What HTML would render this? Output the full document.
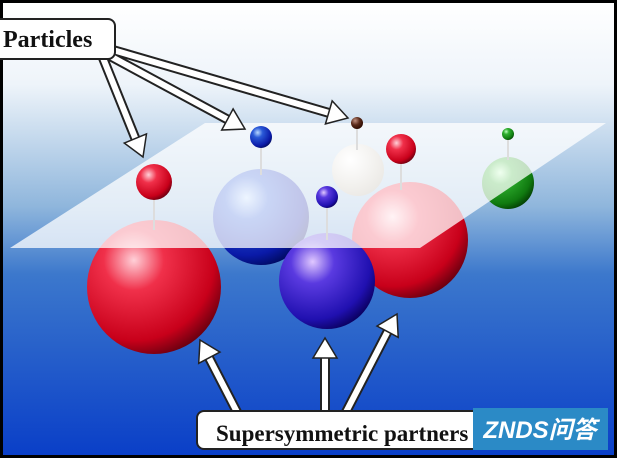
<!DOCTYPE html>
<html><head><meta charset="utf-8"><style>
html,body{margin:0;padding:0;background:#000;}
svg{display:block}
</style></head><body>
<svg width="617" height="458" viewBox="0 0 617 458" xmlns="http://www.w3.org/2000/svg">
<defs>
<linearGradient id="bg" x1="0" y1="0" x2="0" y2="1">
<stop offset="0" stop-color="#ffffff"/>
<stop offset="0.18" stop-color="#eef4fa"/>
<stop offset="0.45" stop-color="#8fb6dc"/>
<stop offset="0.6" stop-color="#3c78cc"/>
<stop offset="1" stop-color="#0a3fc8"/>
</linearGradient>
<radialGradient id="red" cx="0.35" cy="0.3" r="0.75">
<stop offset="0" stop-color="#ffd0d8"/><stop offset="0.3" stop-color="#f0304a"/><stop offset="0.8" stop-color="#c8001a"/><stop offset="1" stop-color="#6a0010"/>
</radialGradient>
<radialGradient id="blue" cx="0.35" cy="0.3" r="0.75">
<stop offset="0" stop-color="#b8d8ff"/><stop offset="0.3" stop-color="#2a5ad8"/><stop offset="0.8" stop-color="#0a1aa8"/><stop offset="1" stop-color="#000a60"/>
</radialGradient>
<radialGradient id="purple" cx="0.35" cy="0.3" r="0.75">
<stop offset="0" stop-color="#e0c8ff"/><stop offset="0.3" stop-color="#5a3ae0"/><stop offset="0.8" stop-color="#2010b0"/><stop offset="1" stop-color="#0a0060"/>
</radialGradient>
<radialGradient id="green" cx="0.35" cy="0.3" r="0.75">
<stop offset="0" stop-color="#c0ffc0"/><stop offset="0.3" stop-color="#30b030"/><stop offset="0.8" stop-color="#107a10"/><stop offset="1" stop-color="#034003"/>
</radialGradient>
<radialGradient id="brown" cx="0.35" cy="0.3" r="0.75">
<stop offset="0" stop-color="#c09080"/><stop offset="0.5" stop-color="#5a2a1a"/><stop offset="1" stop-color="#2a0a00"/>
</radialGradient>
<radialGradient id="beige" cx="0.35" cy="0.3" r="0.75">
<stop offset="0" stop-color="#ffffff"/><stop offset="1" stop-color="#b0a898"/>
</radialGradient>
</defs>
<rect x="0" y="0" width="617" height="458" fill="#000"/>
<rect x="3" y="3" width="611" height="452" fill="url(#bg)"/>

<circle cx="358" cy="170" r="26" fill="url(#beige)"/>
<circle cx="508" cy="183" r="26" fill="url(#green)"/>
<circle cx="261" cy="217" r="48" fill="url(#blue)"/>
<circle cx="410" cy="240" r="58" fill="url(#red)"/>
<circle cx="327" cy="281" r="48" fill="url(#purple)"/>
<circle cx="154" cy="287" r="67" fill="url(#red)"/>

<polygon points="205,123 606,123 420,248 10,248" fill="#ffffff" fill-opacity="0.75"/>

<g stroke="#ddd" stroke-width="2">
<line x1="154" y1="195" x2="154" y2="230"/>
<line x1="261" y1="145" x2="261" y2="175"/>
<line x1="327" y1="205" x2="327" y2="240"/>
<line x1="357" y1="128" x2="357" y2="150"/>
<line x1="401" y1="162" x2="401" y2="190"/>
<line x1="508" y1="140" x2="508" y2="160"/>
</g>
<circle cx="154" cy="182" r="18" fill="url(#red)"/>
<circle cx="261" cy="137" r="11" fill="url(#blue)"/>
<circle cx="327" cy="197" r="11" fill="url(#purple)"/>
<circle cx="357" cy="123" r="6" fill="url(#brown)"/>
<circle cx="401" cy="149" r="15" fill="url(#red)"/>
<circle cx="508" cy="134" r="6" fill="url(#green)"/>

<g stroke-linecap="butt">
<g stroke="#222" stroke-width="10">
<line x1="103" y1="58" x2="138" y2="145"/>
<line x1="110" y1="56" x2="234" y2="123"/>
<line x1="113" y1="50" x2="336" y2="115"/>
<line x1="238" y1="414" x2="205" y2="350"/>
<line x1="325" y1="414" x2="325" y2="350"/>
<line x1="345" y1="414" x2="391" y2="325"/>
</g>
<g stroke="#fff" stroke-width="6">
<line x1="103" y1="58" x2="138" y2="145"/>
<line x1="110" y1="56" x2="234" y2="123"/>
<line x1="113" y1="50" x2="336" y2="115"/>
<line x1="238" y1="414" x2="205" y2="350"/>
<line x1="325" y1="414" x2="325" y2="350"/>
<line x1="345" y1="414" x2="391" y2="325"/>
</g>
<g fill="#fff" stroke="#222" stroke-width="1.5" stroke-linejoin="miter">
<polygon transform="translate(143,157) rotate(67.6)" points="0,0 -20,-12 -20,12"/>
<polygon transform="translate(245,129) rotate(28.4)" points="0,0 -20,-12 -20,12"/>
<polygon transform="translate(348,118) rotate(16.3)" points="0,0 -20,-12 -20,12"/>
<polygon transform="translate(200,340) rotate(-117.8)" points="0,0 -20,-12 -20,12"/>
<polygon transform="translate(325,338) rotate(-90)" points="0,0 -20,-12 -20,12"/>
<polygon transform="translate(397,314) rotate(-62)" points="0,0 -20,-12 -20,12"/>
</g>
</g>

<rect x="-10" y="19" width="125" height="40" rx="7" fill="#fff" stroke="#222" stroke-width="2"/>
<text x="3" y="47" font-family="Liberation Serif, serif" font-weight="bold" font-size="24" fill="#111">Particles</text>

<rect x="197" y="411" width="409" height="38" rx="7" fill="#fff" stroke="#222" stroke-width="2"/>
<text x="216" y="441" font-family="Liberation Serif, serif" font-weight="bold" font-size="23" fill="#111">Supersymmetric partners</text>

<rect x="473" y="408" width="135" height="42" fill="#2b8ac6"/>
<text x="540" y="438" text-anchor="middle" font-family="Liberation Sans, 'Noto Sans CJK SC', sans-serif" font-weight="bold" font-style="italic" font-size="24" fill="#fff">ZNDS问答</text>
</svg>
</body></html>
